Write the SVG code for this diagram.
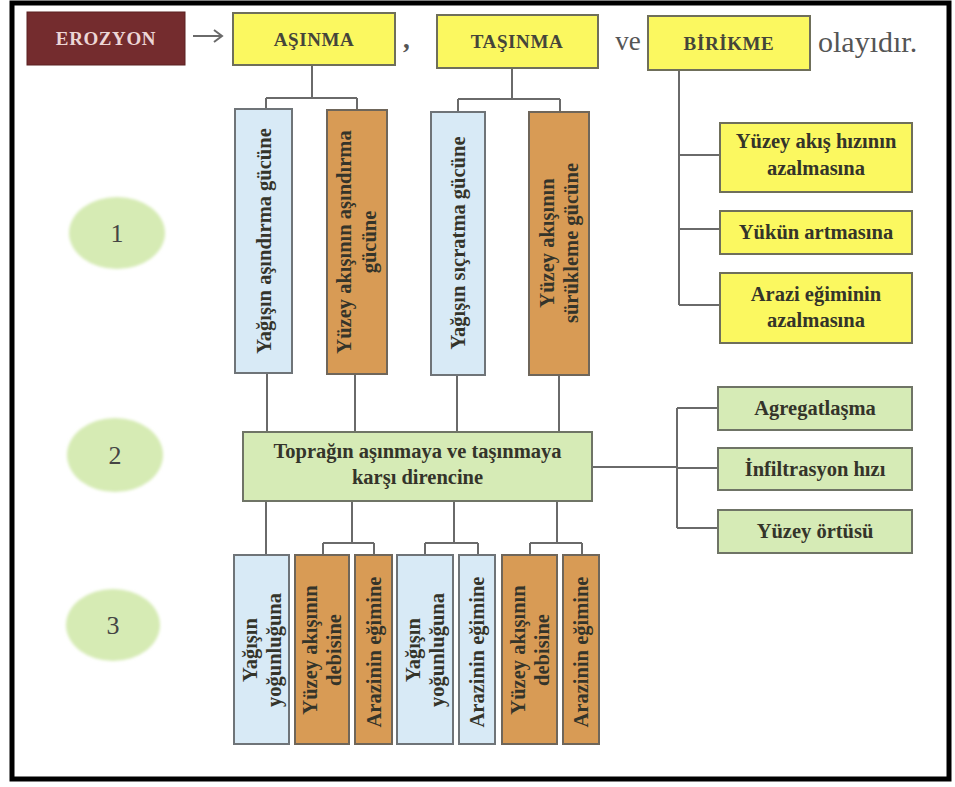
<svg xmlns="http://www.w3.org/2000/svg" width="955" height="787" viewBox="0 0 955 787">
<defs>
<filter id="soft" x="-20%" y="-20%" width="140%" height="140%"><feGaussianBlur stdDeviation="1.6"/></filter>
</defs>
<style>
text{font-family:"Liberation Serif","DejaVu Serif",serif;}
.lbl{font-size:20.5px;font-weight:bold;fill:#34342a;text-anchor:middle;}
.top{font-size:19px;font-weight:bold;fill:#45453a;text-anchor:middle;letter-spacing:0.6px;}
.yel{fill:#fbf860;stroke:#6f6f5a;stroke-width:2;}
.blu{fill:#d8eaf6;stroke:#6f7478;stroke-width:2;}
.ora{fill:#d89b55;stroke:#6f665a;stroke-width:2;}
.grn{fill:#d6ebb6;stroke:#6f7466;stroke-width:2;}
.ell{fill:#d6ebb4;filter:url(#soft);}
.num{font-size:26px;fill:#444;text-anchor:middle;}
.plain{font-size:27px;fill:#555;}
#connectors path{fill:none;stroke:#6a6a6a;stroke-width:2;}
</style>
<rect x="0" y="0" width="955" height="787" fill="#ffffff"/>
<rect x="12" y="3" width="937" height="776" fill="#ffffff" stroke="#000" stroke-width="5"/>

<g id="connectors">
<path d="M193,36 H222 M214,30 L222,36 L214,42"/>
<path d="M312,65 V98 M266,98 H357 M266,98 V109 M357,98 V110"/>
<path d="M512,68 V99 M458,99 H560 M458,99 V112 M560,99 V112"/>
<path d="M267,373 V432 M355,374 V432 M457,375 V432 M559,375 V432"/>
<path d="M679,70 V305 M679,155 H720 M679,229 H720 M679,305 H720"/>
<path d="M592,467 H677 M677,408 V528 M677,408 H718 M677,468 H718 M677,528 H718"/>
<path d="M266,501 V555 M352,501 V543 M323,543 H374 M323,543 V555 M374,543 V555"/>
<path d="M454,501 V543 M425,543 H478 M425,543 V555 M478,543 V555"/>
<path d="M557,501 V543 M530,543 H582 M530,543 V555 M582,543 V555"/>
</g>

<g id="erozyon"><rect x="27" y="12" width="158" height="53" fill="#742c2e" stroke="#5a2020" stroke-width="1"/><text x="106" y="45" class="top" style="fill:#ecd6d6">EROZYON</text></g>
<g id="asinma"><rect class="yel" x="233" y="13" width="162" height="52"/><text x="314" y="46" class="top">AŞINMA</text></g>
<g id="comma"><text x="403" y="48" class="plain" style="font-weight:bold">,</text></g>
<g id="tasinma"><rect class="yel" x="437" y="15" width="161" height="53"/><text x="517" y="48" class="top">TAŞINMA</text></g>
<g id="ve"><text x="628" y="50" class="plain" style="text-anchor:middle">ve</text></g>
<g id="birikme"><rect class="yel" x="648" y="16" width="162" height="54"/><text x="729" y="50" class="top">BİRİKME</text></g>
<g id="olayidir"><text x="818" y="52" class="plain" style="font-size:30px">olayıdır.</text></g>

<g id="n1"><ellipse class="ell" cx="117" cy="233" rx="48" ry="36"/><text x="117" y="242" class="num">1</text></g>
<g id="n2"><ellipse class="ell" cx="115" cy="455" rx="48" ry="37"/><text x="115" y="464" class="num">2</text></g>
<g id="n3"><ellipse class="ell" cx="113" cy="625" rx="47" ry="36"/><text x="113" y="634" class="num">3</text></g>

<g id="a1"><rect class="blu" x="235" y="109" width="57" height="264"/><text class="lbl" transform="translate(263.5 241) rotate(-90)" x="0" y="7">Yağışın aşındırma gücüne</text></g>
<g id="a2"><rect class="ora" x="327" y="110" width="60" height="264"/><text class="lbl" transform="translate(357 242) rotate(-90)"><tspan x="0" y="-6">Yüzey akışının aşındırma</tspan><tspan x="0" y="19">gücüne</tspan></text></g>
<g id="t1"><rect class="blu" x="431" y="112" width="54" height="263"/><text class="lbl" transform="translate(458 243) rotate(-90)" x="0" y="7">Yağışın sıçratma gücüne</text></g>
<g id="t2"><rect class="ora" x="529" y="112" width="60" height="263"/><text class="lbl" transform="translate(559 243) rotate(-90)"><tspan x="0" y="-5">Yüzey akışının</tspan><tspan x="0" y="19">sürükleme gücüne</tspan></text></g>

<g id="b1"><rect class="yel" x="720" y="123" width="192" height="69"/><text class="lbl" x="816" y="148">Yüzey akış hızının</text><text class="lbl" x="816" y="175">azalmasına</text></g>
<g id="b2"><rect class="yel" x="720" y="211" width="192" height="43"/><text class="lbl" x="816" y="239">Yükün artmasına</text></g>
<g id="b3"><rect class="yel" x="720" y="273" width="192" height="70"/><text class="lbl" x="816" y="301">Arazi eğiminin</text><text class="lbl" x="816" y="327">azalmasına</text></g>

<g id="direnc"><rect class="grn" x="243" y="432" width="349" height="69"/><text class="lbl" x="417.5" y="458">Toprağın aşınmaya ve taşınmaya</text><text class="lbl" x="417.5" y="484">karşı direncine</text></g>
<g id="g1"><rect class="grn" x="718" y="387" width="194" height="43"/><text class="lbl" x="815" y="415">Agregatlaşma</text></g>
<g id="g2"><rect class="grn" x="718" y="448" width="194" height="42"/><text class="lbl" x="815" y="476">İnfiltrasyon hızı</text></g>
<g id="g3"><rect class="grn" x="718" y="510" width="194" height="43"/><text class="lbl" x="815" y="538">Yüzey örtüsü</text></g>

<g id="c1"><rect class="blu" x="234" y="555" width="55" height="189"/><text class="lbl" transform="translate(261.5 650) rotate(-90)"><tspan x="0" y="-5">Yağışın</tspan><tspan x="0" y="19">yoğunluğuna</tspan></text></g>
<g id="c2"><rect class="ora" x="295" y="555" width="54" height="189"/><text class="lbl" transform="translate(322 650) rotate(-90)"><tspan x="0" y="-5">Yüzey akışının</tspan><tspan x="0" y="19">debisine</tspan></text></g>
<g id="c3"><rect class="ora" x="355" y="555" width="37" height="189"/><text class="lbl" transform="translate(373.5 652) rotate(-90)" x="0" y="7">Arazinin eğimine</text></g>
<g id="c4"><rect class="blu" x="397" y="555" width="56" height="189"/><text class="lbl" transform="translate(425 650) rotate(-90)"><tspan x="0" y="-5">Yağışın</tspan><tspan x="0" y="19">yoğunluğuna</tspan></text></g>
<g id="c5"><rect class="blu" x="459" y="555" width="36" height="189"/><text class="lbl" transform="translate(477 652) rotate(-90)" x="0" y="7">Arazinin eğimine</text></g>
<g id="c6"><rect class="ora" x="502" y="555" width="55" height="189"/><text class="lbl" transform="translate(529.5 650) rotate(-90)"><tspan x="0" y="-5">Yüzey akışının</tspan><tspan x="0" y="19">debisine</tspan></text></g>
<g id="c7"><rect class="ora" x="563" y="555" width="36" height="189"/><text class="lbl" transform="translate(581 652) rotate(-90)" x="0" y="7">Arazinin eğimine</text></g>
</svg>
